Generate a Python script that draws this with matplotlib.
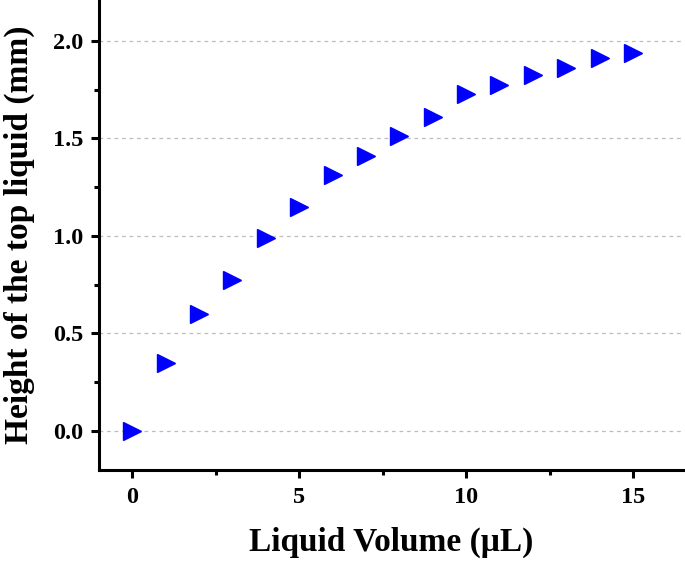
import matplotlib
matplotlib.use("Agg")
import matplotlib.pyplot as plt
from matplotlib.ticker import MultipleLocator

volume = [0, 1, 2, 3, 4, 5, 6, 7, 8, 9, 10, 11, 12, 13, 14, 15]
height = [0.0, 0.35, 0.60, 0.775, 0.99, 1.15, 1.313, 1.412, 1.513, 1.612,
          1.727, 1.774, 1.826, 1.863, 1.914, 1.938]

plt.rcParams['font.family'] = ['Liberation Serif', 'DejaVu Serif']
plt.rcParams['font.weight'] = 'bold'

fig = plt.figure(figsize=(6.85, 5.62), dpi=100)
ax = fig.add_axes([99/685, 92/562, (683-99)/685, 470/562])

ax.yaxis.grid(True, linestyle=(0, (3, 3)), color='#bdbdbd', linewidth=0.9)
ax.set_axisbelow(True)
ax.plot(volume, height, linestyle='none', marker='>', markersize=12.5,
        color='#0000ff', markeredgecolor='#0000ff', zorder=3)

ax.set_xlim(-1.0, 16.5)
ax.set_ylim(-0.2, 2.21)
ax.xaxis.set_major_locator(MultipleLocator(5))
ax.xaxis.set_minor_locator(MultipleLocator(2.5))
ax.yaxis.set_major_locator(MultipleLocator(0.5))
ax.yaxis.set_minor_locator(MultipleLocator(0.25))
ax.yaxis.set_major_formatter(plt.FuncFormatter(lambda v, p: f"{v:.1f}"))

for s in ['top', 'right']:
    ax.spines[s].set_visible(False)
for s in ['left', 'bottom']:
    ax.spines[s].set_linewidth(2.2)

ax.tick_params(which='major', direction='out', length=6, width=2.2,
               labelsize=17.5)
ax.tick_params(axis='y', which='major', pad=5)
ax.tick_params(axis='x', which='major', pad=6)
ax.tick_params(which='minor', direction='out', length=3.5, width=2.2)
for lab in ax.get_xticklabels() + ax.get_yticklabels():
    lab.set_fontweight('bold')

ax.set_xlabel('Liquid Volume (μL)', fontsize=24, fontweight='bold', labelpad=14)
ax.set_ylabel('Height of the top liquid (mm)', fontsize=24, fontweight='bold', labelpad=13)

fig.savefig('out.png', dpi=100)
